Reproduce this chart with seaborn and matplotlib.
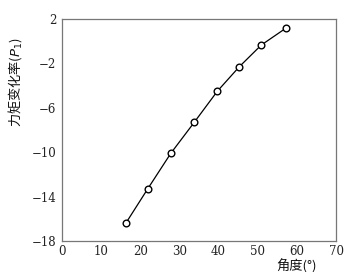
import matplotlib
matplotlib.use("Agg")
import matplotlib.pyplot as plt
import seaborn as sns
import pandas as pd

angle = [16.3, 21.9, 27.8, 33.8, 39.7, 45.3, 50.9, 57.1]
rate = [-16.4, -13.3, -10.1, -7.3, -4.5, -2.3, -0.35, 1.15]
xticks = [0, 10, 20, 30, 40, 50, 60, 70]
yticks = [2, -2, -6, -10, -14, -18]

sns.set_theme(style="white")
plt.rcParams['font.family'] = ['DejaVu Serif', 'Noto Sans CJK SC']
plt.rcParams['axes.unicode_minus'] = True

df = pd.DataFrame({"angle": angle, "rate": rate})
fig = plt.figure(figsize=(3.53, 2.72), dpi=100)
ax = fig.add_axes([62/353, 1-241/272, (336-62)/353, (241-19)/272])
sns.lineplot(data=df, x="angle", y="rate", ax=ax, color="black", lw=0.9,
             marker="o", markersize=4.8, markerfacecolor="white",
             markeredgecolor="black", markeredgewidth=1.0)
ax.set_xlim(0, 70)
ax.set_ylim(-18, 2)
ax.set_xticks(xticks)
ax.set_yticks(yticks)
ax.set_xticklabels([str(t) for t in xticks], fontsize=8.5, color="#222222")
ax.set_yticklabels([str(t).replace('-', '\u2212') for t in yticks], fontsize=8.5, color="#222222")
ax.tick_params(axis="x", length=0, pad=3)
ax.tick_params(axis="y", length=0, pad=4)
for s in ax.spines.values():
    s.set_color("#777777")
    s.set_linewidth(0.9)
ax.set_xlabel("")
ax.set_ylabel("")
fig.text(297/353, 1-266/272, "角度(°)", ha="center", va="center", fontsize=9.5,
         family=['Noto Sans CJK SC', 'DejaVu Sans'], color="#111111")
fig.text(15/353, 1-82/272, "力矩变化率($P_1$)", ha="center", va="center", rotation=90,
         fontsize=9.5, family=['Noto Sans CJK SC', 'DejaVu Sans'], color="#111111")
fig.savefig("out.png", dpi=100)
